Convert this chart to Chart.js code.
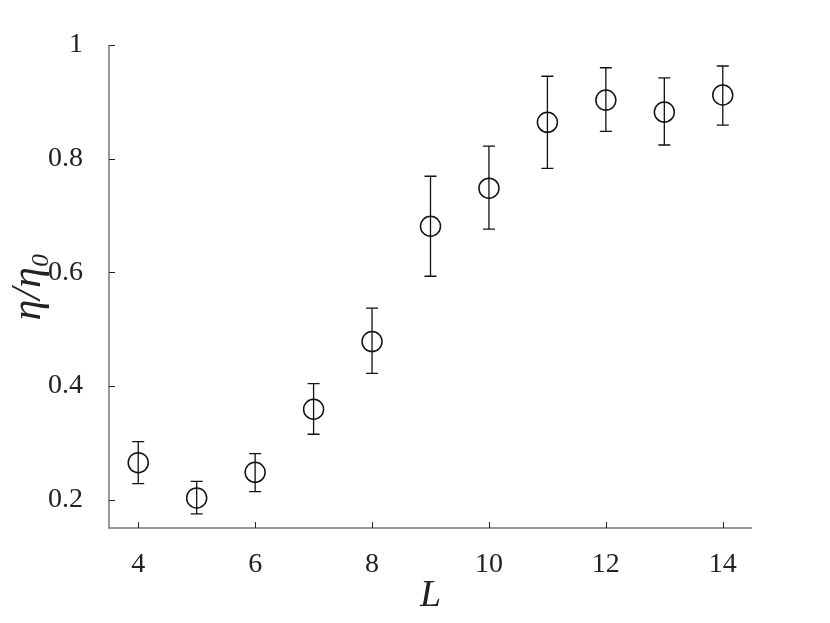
<!DOCTYPE html>
<html>
<head>
<meta charset="utf-8">
<script src="https://cdn.jsdelivr.net/npm/chart.js@4.4.0/dist/chart.umd.min.js"></script>
<style>
  html, body { margin: 0; padding: 0; background: #fff; }
  #wrap { width: 830px; height: 623px; }
</style>
</head>
<body>
<div id="wrap"><canvas id="chart"></canvas></div>
<script>
// Datos
const longitudes = [4, 5, 6, 7, 8, 9, 10, 11, 12, 13, 14];
const eta = [0.265, 0.203, 0.248, 0.359, 0.478, 0.681, 0.748, 0.864, 0.903, 0.882, 0.912];
const errInf = [0.228, 0.175, 0.214, 0.315, 0.422, 0.593, 0.676, 0.783, 0.848, 0.824, 0.859];
const errSup = [0.302, 0.232, 0.281, 0.404, 0.537, 0.769, 0.822, 0.945, 0.960, 0.942, 0.963];
const ticksX = [4, 6, 8, 10, 12, 14];
const ticksY = [0.2, 0.4, 0.6, 0.8, 1];

const puntos = longitudes.map((l, i) => ({ x: l, y: eta[i] }));
const serif = "'Liberation Serif', 'Times New Roman', Times, serif";

// Barras de error
const barrasError = {
    id: 'barrasError',
    beforeDatasetsDraw(chart) {
        const { ctx, scales: { x, y } } = chart;
        ctx.save();
        ctx.strokeStyle = '#111';
        ctx.lineWidth = 1.3;
        longitudes.forEach((l, i) => {
            const px = x.getPixelForValue(l);
            const top = y.getPixelForValue(errSup[i]);
            const bot = y.getPixelForValue(errInf[i]);
            ctx.beginPath();
            ctx.moveTo(px, top); ctx.lineTo(px, bot);
            ctx.moveTo(px - 6, top); ctx.lineTo(px + 6, top);
            ctx.moveTo(px - 6, bot); ctx.lineTo(px + 6, bot);
            ctx.stroke();
        });
        ctx.restore();
    }
};

// Ejes con marcas hacia dentro
const ejes = {
    id: 'ejes',
    afterDraw(chart) {
        const { ctx, chartArea: a, scales: { x, y } } = chart;
        ctx.save();
        ctx.strokeStyle = '#777';
        ctx.lineWidth = 1.5;
        ctx.beginPath();
        ctx.moveTo(a.left, a.top); ctx.lineTo(a.left, a.bottom); ctx.lineTo(a.right, a.bottom);
        ctx.stroke();
        ctx.strokeStyle = '#222';
        ctx.lineWidth = 1;
        ctx.beginPath();
        ticksY.forEach(v => {
            const py = Math.round(y.getPixelForValue(v)) + 0.5;
            ctx.moveTo(a.left, py); ctx.lineTo(a.left + 6, py);
        });
        ticksX.forEach(v => {
            const px = Math.round(x.getPixelForValue(v)) + 0.5;
            ctx.moveTo(px, a.bottom); ctx.lineTo(px, a.bottom - 6);
        });
        ctx.stroke();
        ctx.restore();
    }
};

const ctx = document.getElementById('chart').getContext('2d');
const myChart = new Chart(ctx, {
    type: 'scatter',
    data: {
        datasets: [{
            data: puntos,
            pointStyle: 'circle',
            pointRadius: 10,
            pointHoverRadius: 10,
            borderColor: '#111',
            backgroundColor: 'rgba(0,0,0,0)',
            borderWidth: 1.5
        }]
    },
    options: {
        responsive: true,
        maintainAspectRatio: false,
        animation: false,
        layout: { padding: { top: 45, right: 78, left: 0, bottom: 0 } },
        plugins: {
            legend: { display: false },
            tooltip: { enabled: false }
        },
        scales: {
            x: {
                type: 'linear',
                min: 3.5,
                max: 14.5,
                afterBuildTicks: s => { s.ticks = ticksX.map(v => ({ value: v })); },
                afterFit: s => { s.height = 95; },
                grid: { display: false },
                border: { display: false },
                ticks: {
                    color: '#222',
                    padding: 12,
                    font: { family: serif, size: 28 }
                },
                title: {
                    display: true,
                    text: 'L',
                    color: '#222',
                    padding: { top: 0 },
                    font: { family: serif, size: 38, style: 'italic' }
                }
            },
            y: {
                type: 'linear',
                min: 0.15,
                max: 1,
                afterBuildTicks: s => { s.ticks = ticksY.map(v => ({ value: v })); },
                afterFit: s => { s.width = 109; },
                grid: { display: false },
                border: { display: false },
                ticks: {
                    color: '#222',
                    padding: 18,
                    font: { family: serif, size: 28 },
                    callback: v => String(v)
                },
                title: {
                    display: true,
                    text: 'η/η₀',
                    color: '#222',
                    padding: { top: 4, bottom: 0 },
                    font: { family: serif, size: 42, style: 'italic' }
                }
            }
        }
    },
    plugins: [barrasError, ejes]
});
</script>
</body>
</html>
